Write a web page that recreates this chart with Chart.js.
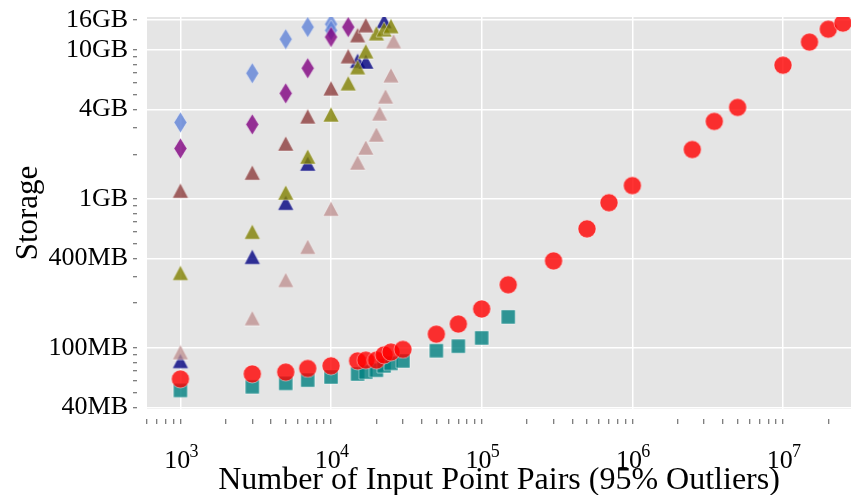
<!DOCTYPE html>
<html>
<head>
<meta charset="utf-8">
<script src="https://cdn.jsdelivr.net/npm/chart.js@4"></script>
<style>
  body { margin: 0; background: #fff; }
  canvas { display: block; }
</style>
</head>
<body>
<canvas id="chart" width="851" height="495"></canvas>
<script>
// storage in MB, input size in point pairs
const redX = [1000, 3000, 5000, 7000, 10000, 15000, 17000, 20000, 22500, 25000, 30000, 50000, 70000, 100000, 150000, 300000, 500000, 700000, 1000000, 2500000, 3500000, 5000000, 10000000, 15000000, 20000000, 25000000];
const redY = [62, 67, 69, 73, 76, 82, 83, 83, 90, 94, 98, 124, 145, 183, 266, 385, 632, 946, 1233, 2153, 3324, 4130, 7925, 11330, 13830, 15200];

const tealX = [1000, 3000, 5000, 7000, 10000, 15000, 17000, 20000, 22500, 25000, 30000, 50000, 70000, 100000, 150000];
const tealY = [52, 55, 58, 61, 64, 67, 69, 71, 76, 79, 82, 96, 103, 117, 162];

const navyX = [1000, 3000, 5000, 7000, 15000, 17000, 22500];
const navyY = [82, 410, 946, 1733, 8500, 8400, 15700];

const oliveX = [1000, 3000, 5000, 7000, 10000, 13000, 15000, 17000, 20000, 22500, 25000];
const oliveY = [320, 604, 1107, 1932, 3706, 6000, 7690, 9840, 13000, 13830, 14520];

const brownX = [1000, 3000, 5000, 7000, 10000, 13000, 15000, 17000];
const brownY = [1141, 1507, 2364, 3597, 5546, 9120, 12620, 14720];

const pinkX = [1000, 3000, 5000, 7000, 10000, 15000, 17000, 20000, 21000, 23000, 25000, 26000];
const pinkY = [94, 159, 287, 479, 863, 1762, 2222, 2718, 3767, 4900, 6790, 11500];

const purpleX = [1000, 3000, 5000, 7000, 10000, 13000];
const purpleY = [2188, 3175, 5130, 7565, 12250, 14290];

const blueX = [1000, 3000, 5000, 7000, 10000, 10000];
const blueY = [3274, 7000, 11860, 14290, 14970, 13600];

const yTicks = [40, 100, 400, 1000, 4000, 10000, 16000];
const yLabels = ['40MB', '100MB', '400MB', '1GB', '4GB', '10GB', '16GB'];
const yMinor = [50, 60, 70, 80, 90, 200, 300, 500, 600, 700, 800, 900, 2000, 3000, 5000, 6000, 7000, 8000, 9000];

const xTicks = [1000, 10000, 100000, 1000000, 10000000];
const xExp = ['3', '4', '5', '6', '7'];

const serif = "'Liberation Serif', 'Times New Roman', serif";

function pts(xs, ys) {
  return xs.map((x, i) => ({ x: x, y: ys[i] }));
}

function marker(shape, w, h, fill) {
  const c = document.createElement('canvas');
  c.width = w + 2;
  c.height = h + 2;
  const g = c.getContext('2d');
  const cx = c.width / 2, cy = c.height / 2;
  g.beginPath();
  if (shape === 'circle') {
    g.arc(cx, cy, w / 2, 0, Math.PI * 2);
  } else if (shape === 'square') {
    g.rect(cx - w / 2, cy - h / 2, w, h);
  } else if (shape === 'triangle') {
    g.moveTo(cx, cy - h / 2);
    g.lineTo(cx + w / 2, cy + h / 2);
    g.lineTo(cx - w / 2, cy + h / 2);
    g.closePath();
  } else {
    g.moveTo(cx, cy - h / 2);
    g.lineTo(cx + w / 2, cy);
    g.lineTo(cx, cy + h / 2);
    g.lineTo(cx - w / 2, cy);
    g.closePath();
  }
  g.fillStyle = fill;
  g.fill();
  g.strokeStyle = 'rgba(255,255,255,0.45)';
  g.lineWidth = 1;
  g.stroke();
  return c;
}

function series(xs, ys, style) {
  return {
    data: pts(xs, ys),
    pointStyle: style,
    pointRadius: 8,
    pointHoverRadius: 8,
    clip: 0
  };
}

const plotBg = {
  id: 'plotBg',
  beforeDraw(chart) {
    const a = chart.chartArea;
    const c = chart.ctx;
    c.save();
    c.fillStyle = '#e5e5e5';
    c.fillRect(a.left, a.top, a.right - a.left, a.bottom - a.top);
    c.restore();
  }
};

// exponents of the 10^n tick labels
const powers = {
  id: 'powers',
  afterDraw(chart) {
    const s = chart.scales.x;
    const c = chart.ctx;
    c.save();
    c.font = '18px ' + serif;
    c.fillStyle = '#000';
    c.textAlign = 'left';
    c.textBaseline = 'alphabetic';
    xTicks.forEach((v, i) => {
      c.fillText(xExp[i], s.getPixelForValue(v) + 9, 457);
    });
    c.restore();
  }
};

Chart.defaults.font.family = serif;
Chart.defaults.color = '#000';

new Chart(document.getElementById('chart'), {
  type: 'scatter',
  data: {
    datasets: [
      series(purpleX, purpleY, marker('diamond', 13, 21, 'rgba(128,0,128,0.8)')),
      series(blueX, blueY, marker('diamond', 13, 21, 'rgba(95,130,215,0.8)')),
      series(brownX, brownY, marker('triangle', 16, 15, 'rgba(140,60,60,0.8)')),
      series(oliveX, oliveY, marker('triangle', 16, 15, 'rgba(128,128,0,0.8)')),
      series(pinkX, pinkY, marker('triangle', 16, 15, 'rgba(188,140,140,0.75)')),
      series(navyX, navyY, marker('triangle', 16, 15, 'rgba(0,0,128,0.8)')),
      series(redX, redY, marker('circle', 18, 18, 'rgba(255,0,0,0.8)')),
      series(tealX, tealY, marker('square', 14, 14, 'rgba(0,128,128,0.8)'))
    ]
  },
  options: {
    responsive: false,
    animation: false,
    events: [],
    layout: { autoPadding: false, padding: { top: 17, right: 0, left: 0, bottom: 0 } },
    plugins: {
      legend: { display: false },
      tooltip: { enabled: false }
    },
    scales: {
      x: {
        type: 'logarithmic',
        min: 600,
        max: 28300000,
        afterBuildTicks(scale) {
          const t = [];
          for (let d = 100; d <= 10000000; d *= 10) {
            for (let k = 1; k <= 9; k++) {
              const v = d * k;
              if (v >= scale.min && v <= scale.max) t.push({ value: v, major: xTicks.includes(v) });
            }
          }
          scale.ticks = t;
        },
        afterFit(scale) {
          scale.height = 86;
          scale.paddingLeft = 0;
          scale.paddingRight = 0;
        },
        border: { display: false },
        grid: {
          color: ctx => (ctx.tick && ctx.tick.major ? '#ffffff' : 'rgba(0,0,0,0)'),
          lineWidth: 1.5,
          tickColor: '#555',
          tickWidth: 1,
          tickLength: 15,
          tickBorderDash: [0, 10, 5, 10]
        },
        ticks: {
          autoSkip: false,
          maxRotation: 0,
          padding: 22,
          font: { size: 26 },
          callback: v => (xTicks.includes(v) ? '10 ' : '')
        },
        title: {
          display: true,
          text: 'Number of Input Point Pairs (95% Outliers)',
          font: { size: 32, lineHeight: 0.9 },
          padding: { top: 0, bottom: 0 }
        }
      },
      y: {
        type: 'logarithmic',
        min: 39,
        max: 16700,
        afterBuildTicks(scale) {
          const t = yTicks.map(v => ({ value: v, major: true }))
            .concat(yMinor.map(v => ({ value: v, major: false })));
          t.sort((a, b) => a.value - b.value);
          scale.ticks = t;
        },
        afterFit(scale) {
          scale.width = 147;
          scale.paddingTop = 0;
          scale.paddingBottom = 0;
        },
        border: { display: false },
        grid: {
          color: ctx => (ctx.tick && ctx.tick.major ? '#ffffff' : 'rgba(0,0,0,0)'),
          lineWidth: 1.5,
          tickColor: '#555',
          tickWidth: 1,
          tickLength: 14,
          tickBorderDash: [4, 10]
        },
        ticks: {
          autoSkip: false,
          padding: 5,
          font: { size: 26 },
          callback: v => {
            const i = yTicks.indexOf(v);
            return i >= 0 ? yLabels[i] : '';
          }
        },
        title: {
          display: true,
          text: 'Storage',
          font: { size: 31, lineHeight: 1.0 },
          padding: { top: 13, bottom: 0 }
        }
      }
    }
  },
  plugins: [plotBg, powers]
});
</script>
</body>
</html>
